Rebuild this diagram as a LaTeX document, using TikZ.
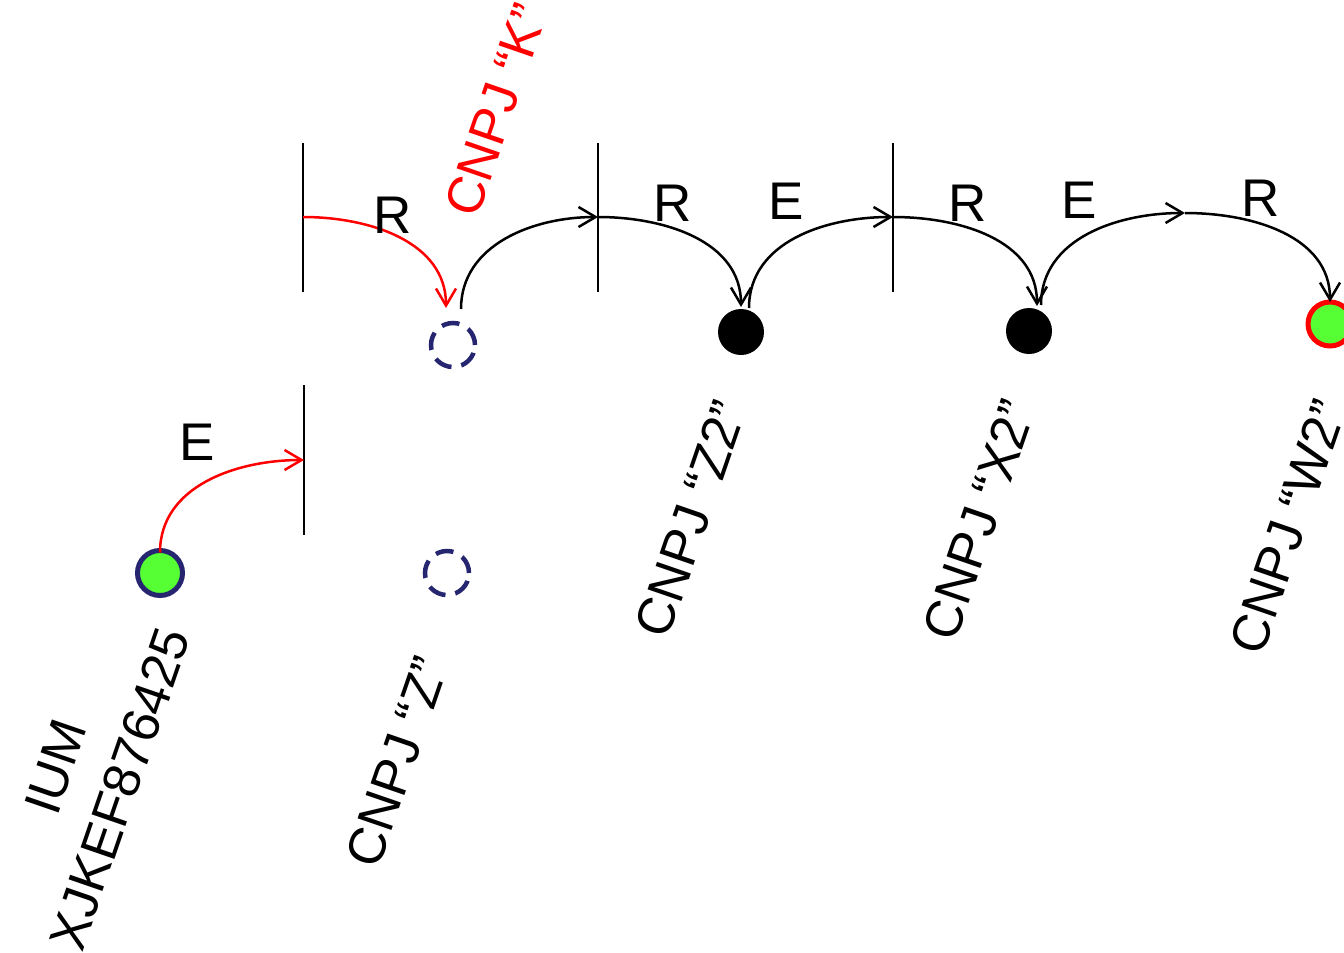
\documentclass[tikz,border=0pt]{standalone}
\usepackage{fontspec}
\setmainfont{Liberation Sans}
\usetikzlibrary{arrows.meta,calc}
\definecolor{navy}{RGB}{38,38,112}
\definecolor{lgreen}{RGB}{85,255,51}
\begin{document}
\begin{tikzpicture}[x=1pt,y=1pt,
  bar/.style={line width=2pt},
  conn/.style={line width=2.5pt,-{Straight Barb[length=17pt,width=20pt,line width=2.5pt]}},
  lbl/.style={font=\fontsize{53}{60}\selectfont,inner sep=0pt},
  rot/.style={font=\fontsize{52}{68}\selectfont,rotate=71,inner sep=0pt,align=center},
  dcirc/.style={circle,draw=navy,dash pattern=on 18pt off 10pt,line width=4.5pt,minimum size=44pt,inner sep=0pt,outer sep=0pt},
  bcirc/.style={circle,fill=black,minimum size=46pt,inner sep=0pt,outer sep=0pt},
  gcirc/.style={circle,fill=lgreen,line width=5pt,minimum size=45pt,inner sep=0pt,outer sep=0pt}]
\useasboundingbox (0,0) rectangle (1344,-953);

% bars
\coordinate (b1t) at (303,-143); \coordinate (b1b) at (303,-292); \coordinate (b1) at (303,-217);
\coordinate (b2t) at (598,-143); \coordinate (b2b) at (598,-292); \coordinate (b2) at (598,-217);
\coordinate (b3t) at (893,-143); \coordinate (b3b) at (893,-292); \coordinate (b3) at (893,-217);
\coordinate (b4t) at (304,-385); \coordinate (b4b) at (304,-535); \coordinate (b4) at (304,-460);
\coordinate (p5) at (1185,-213);
\draw[bar] (b1t) -- (b1b);
\draw[bar] (b2t) -- (b2b);
\draw[bar] (b3t) -- (b3b);
\draw[bar] (b4t) -- (b4b);

% circles
\node[gcirc,draw=navy] (ium) at (160,-573) {};
\node[dcirc] (k) at (453,-345) {};
\node[dcirc] (z) at (447,-573) {};
\node[bcirc] (z2) at (741,-332) {};
\node[bcirc] (x2) at (1029,-331) {};
\node[gcirc,draw=red,minimum size=44pt] (w2) at (1330,-324) {};

% connectors
\draw[conn,red] ([yshift=-2pt]ium.north) to[out=90,in=180] (b4);
\draw[conn,red] (b1) to[out=0,in=90] ([xshift=-7pt,yshift=15pt]k.north);
\draw[conn] ([xshift=8pt,yshift=14pt]k.north) to[out=90,in=180] (b2);
\draw[conn] (b2) to[out=0,in=90] ([yshift=2pt]z2.north);
\draw[conn] ([xshift=8pt,yshift=1pt]z2.north) to[out=90,in=180] (b3);
\draw[conn] (b3) to[out=0,in=90] ([xshift=8pt,yshift=2pt]x2.north);
\draw[conn] ([xshift=12pt,yshift=3pt]x2.north) to[out=90,in=180] (p5);
\draw[conn] (p5) to[out=0,in=90] ([yshift=0pt]w2.north);

% edge labels
\node[lbl] (l1) at (393,-215) {R};
\node[lbl] (l2) at (673,-203) {R};
\node[lbl] (l3) at (786,-201) {E};
\node[lbl] (l4) at (968,-203) {R};
\node[lbl] (l5) at (1079,-200) {E};
\node[lbl] (l6) at (1261,-198) {R};
\node[lbl] (l7) at (197,-442) {E};

% rotated labels
\node[rot] (tium) at (88,-778) {IUM\\XJKEF876425};
\node[rot] (tz) at (397,-762) {CNPJ “Z”};
\node[rot,text=red] (tk) at (496,-110) {CNPJ “K”};
\node[rot] (tz2) at (691,-519) {CNPJ “Z2”};
\node[rot] (tx2) at (979,-520) {CNPJ “X2”};
\node[rot] (tw2) at (1288,-527) {CNPJ “W2”};
\end{tikzpicture}
\end{document}
